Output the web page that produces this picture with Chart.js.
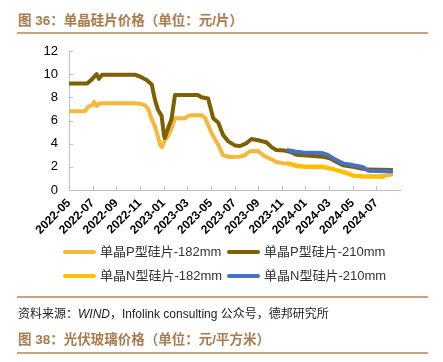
<!DOCTYPE html>
<html>
<head>
<meta charset="utf-8">
<script src="https://cdn.jsdelivr.net/npm/chart.js@4.4.1/dist/chart.umd.min.js"></script>
<style>
  body { margin: 0; width: 443px; height: 362px; background: #fff; position: relative; overflow: hidden;
         font-family: "Liberation Sans", Arial, "Noto Sans CJK SC", sans-serif; }
  .title { position: absolute; left: 18px; font-size: 13.5px; font-weight: bold; color: #a97c50;
           line-height: 16px; white-space: nowrap; font-family: "Liberation Sans", Arial, "Noto Sans CJK SC", sans-serif; }
  .rule { position: absolute; left: 17px; width: 411px; height: 2px; background: #c9a47f; }
  #chart { position: absolute; left: 0; top: 0; }
  .legend-item { position: absolute; font-size: 13px; color: #333; white-space: nowrap; line-height: 16px; }
  .legend-item i { display: inline-block; width: 33px; height: 4px; border-radius: 2px; vertical-align: middle;
                   margin-right: 4px; position: relative; top: -1px; }
  .source { position: absolute; left: 18px; top: 304px; font-size: 12px; color: #222; white-space: nowrap; }
</style>
</head>
<body>
<div class="title" style="top:13px">图 36：单晶硅片价格（单位：元/片）</div>
<div class="rule" style="top:32px"></div>
<canvas id="chart" width="443" height="362"></canvas>
<div id="legend"></div>
<div class="rule" style="top:296px"></div>
<div class="source">资料来源：<i>WIND</i>，Infolink consulting 公众号，德邦研究所</div>
<div class="title" style="top:332px">图 38：光伏玻璃价格（单位：元/平方米）</div>
<div class="rule" style="top:352px"></div>

<script>
// x ticks every two months
const tickLabels = ['2022-05', '2022-07', '2022-09', '2022-11', '2023-01', '2023-03', '2023-05',
  '2023-07', '2023-09', '2023-11', '2024-01', '2024-03', '2024-05', '2024-07'];

const seriesNames = ['单晶P型硅片-182mm', '单晶P型硅片-210mm', '单晶N型硅片-182mm', '单晶N型硅片-210mm'];
const seriesColors = ['#f5b83c', '#7f6000', '#ffc000', '#4472c4'];

const p182Dates = ['2022-05-01', '2022-06-11', '2022-06-20', '2022-06-29', '2022-07-05', '2022-07-11', '2022-07-20',
  '2022-10-14', '2022-11-01', '2022-11-14', '2022-11-22', '2022-12-01', '2022-12-09', '2022-12-17', '2022-12-22',
  '2022-12-27', '2023-01-04', '2023-01-13', '2023-01-21', '2023-01-30', '2023-02-25', '2023-03-08', '2023-04-07',
  '2023-04-16', '2023-05-03', '2023-05-11', '2023-05-20', '2023-06-02', '2023-06-19', '2023-07-15', '2023-07-27',
  '2023-08-10', '2023-09-01', '2023-09-18', '2023-10-05', '2023-10-17', '2023-11-04', '2023-11-24', '2023-12-08',
  '2024-01-12', '2024-02-16', '2024-03-03', '2024-03-15', '2024-04-06', '2024-05-02', '2024-05-27', '2024-07-18',
  '2024-08-13'];
const p182Values = [6.8, 6.8, 7.2, 7.3, 7.6, 7.25, 7.5,
  7.5, 7.45, 7.3, 7.0, 6.1, 5.5, 4.6, 3.9,
  3.7, 4.3, 4.7, 5.3, 6.2, 6.2, 6.45, 6.45,
  6.25, 4.9, 4.4, 3.9, 3.0, 2.85, 2.88, 3.0,
  3.35, 3.36, 2.9, 2.65, 2.42, 2.32, 2.28, 2.05,
  1.97, 1.97, 1.85, 1.74, 1.55, 1.24, 1.16, 1.2,
  1.35];

const p210Dates = ['2022-05-01', '2022-06-17', '2022-06-29', '2022-07-11', '2022-07-17', '2022-07-25', '2022-10-18',
  '2022-11-01', '2022-11-18', '2022-12-01', '2022-12-09', '2022-12-17', '2022-12-26', '2023-01-02', '2023-01-04',
  '2023-01-13', '2023-01-21', '2023-01-30', '2023-03-29', '2023-04-07', '2023-04-24', '2023-05-07', '2023-05-20',
  '2023-06-02', '2023-06-15', '2023-07-02', '2023-07-15', '2023-08-02', '2023-08-14', '2023-09-01', '2023-09-22',
  '2023-10-05', '2023-10-17', '2023-11-08', '2023-11-26', '2023-12-08', '2024-01-12', '2024-02-16', '2024-03-03',
  '2024-03-15', '2024-04-06', '2024-05-02', '2024-05-23', '2024-06-10', '2024-08-13'];
const p210Values = [9.2, 9.2, 9.55, 10.0, 9.6, 9.95, 9.95,
  9.8, 9.5, 9.1, 7.8, 6.9, 6.4, 4.7, 4.5,
  5.4, 6.1, 8.2, 8.2, 8.0, 7.9, 6.2, 5.8,
  4.75, 4.2, 3.85, 3.8, 4.05, 4.4, 4.3, 4.12,
  3.7, 3.46, 3.4, 3.25, 3.04, 2.96, 2.86, 2.74,
  2.5, 2.14, 2.0, 1.86, 1.76, 1.72];

const n182Dates = ['2023-11-13', '2023-11-30', '2023-12-25', '2024-02-16', '2024-03-03', '2024-03-15', '2024-03-24',
  '2024-04-06', '2024-04-15', '2024-05-02', '2024-05-27', '2024-07-22'];
const n182Values = [2.3, 2.16, 2.05, 2.02, 1.88, 1.78, 1.67, 1.58, 1.5, 1.25, 1.17, 1.13];

const n210Dates = ['2023-11-13', '2023-12-08', '2023-12-25', '2024-02-12', '2024-02-28', '2024-03-11', '2024-04-06',
  '2024-05-02', '2024-05-27', '2024-06-10', '2024-08-13'];
const n210Values = [3.46, 3.3, 3.24, 3.2, 3.03, 2.75, 2.3, 2.15, 1.98, 1.67, 1.6];

// months since 2022-05
function monthOffset(d) {
  const [yy, mm, dd] = d.split('-').map(Number);
  return (yy - 2022) * 12 + (mm - 5) + (dd - 1) / 30;
}
const toPoints = (dates, values) => dates.map((d, i) => ({ x: monthOffset(d), y: values[i] }));

const allSeries = [
  toPoints(p182Dates, p182Values),
  toPoints(p210Dates, p210Values),
  toPoints(n182Dates, n182Values),
  toPoints(n210Dates, n210Values),
];
const drawOrder = [4, 2, 3, 1]; // higher = drawn first

// small inner tick marks like the original
const innerTicks = {
  id: 'innerTicks',
  beforeDatasetsDraw(chart) {
    const { ctx, chartArea, scales: { x, y } } = chart;
    ctx.save();
    ctx.strokeStyle = '#bfbfbf';
    ctx.lineWidth = 1;
    ctx.beginPath();
    x.ticks.forEach((t) => {
      if (t.value >= 28) return;
      const px = Math.round(x.getPixelForValue(t.value)) + 0.5;
      ctx.moveTo(px, chartArea.bottom);
      ctx.lineTo(px, chartArea.bottom - 4);
    });
    y.ticks.forEach((t) => {
      const py = Math.round(y.getPixelForValue(t.value)) + 0.5;
      ctx.moveTo(chartArea.left, py);
      ctx.lineTo(chartArea.left + 4, py);
    });
    ctx.stroke();
    ctx.restore();
  },
};

new Chart(document.getElementById('chart'), {
  type: 'line',
  data: {
    datasets: allSeries.map((pts, i) => ({
      label: seriesNames[i],
      data: pts,
      borderColor: seriesColors[i],
      backgroundColor: seriesColors[i],
      borderWidth: 4,
      pointRadius: 0,
      tension: 0,
      borderJoinStyle: 'round',
      order: drawOrder[i],
    })),
  },
  options: {
    responsive: false,
    animation: false,
    layout: { padding: { left: 0, top: 51, right: 43, bottom: 112 } },
    plugins: { legend: { display: false }, tooltip: { enabled: false } },
    scales: {
      x: {
        type: 'linear',
        min: 0,
        max: 28,
        afterFit: (s) => { s.height = 60; },
        grid: { display: false, drawTicks: false },
        border: { display: true, color: '#bfbfbf', width: 1 },
        ticks: {
          stepSize: 2,
          autoSkip: false,
          minRotation: 45,
          maxRotation: 45,
          padding: 6,
          color: '#000',
          font: { family: '"Liberation Sans", Arial', size: 12, weight: 'bold' },
          callback: (v) => tickLabels[v / 2] ?? null,
        },
      },
      y: {
        min: 0,
        max: 12,
        afterFit: (s) => { s.width = 69; },
        grid: { display: false, drawTicks: false },
        border: { display: true, color: '#bfbfbf', width: 1 },
        ticks: {
          stepSize: 2,
          padding: 11,
          color: '#000',
          font: { family: '"Liberation Sans", Arial', size: 13 },
        },
      },
    },
  },
  plugins: [innerTicks],
});

// legend in two columns
const legendPos = [[63, 244], [227, 244], [63, 268], [227, 268]];
document.getElementById('legend').innerHTML = seriesNames
  .map((name, i) => `<div class="legend-item" style="left:${legendPos[i][0]}px;top:${legendPos[i][1]}px">` +
    `<i style="background:${seriesColors[i]}"></i>${name}</div>`)
  .join('');
</script>
</body>
</html>
